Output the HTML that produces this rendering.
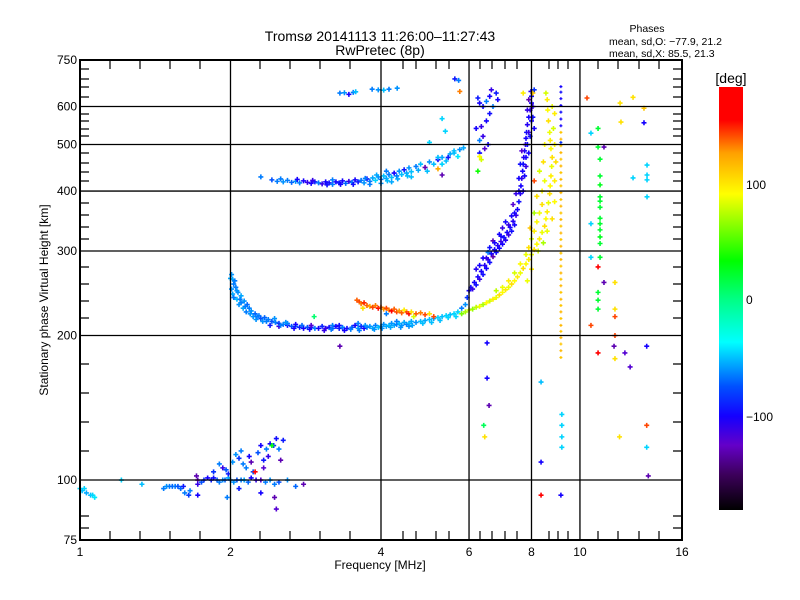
<!DOCTYPE html>
<html><head><meta charset="utf-8"><style>
html,body{margin:0;padding:0;background:#fff;}
svg{display:block;font-family:"Liberation Sans",sans-serif;}
</style></head><body>
<svg id="chart" width="800" height="600" viewBox="0 0 800 600">
<defs>
<linearGradient id="cbg" x1="0" y1="0" x2="0" y2="1">
<stop offset="0" stop-color="rgb(255,0,0)"/>
<stop offset="0.078" stop-color="rgb(255,0,0)"/>
<stop offset="0.156" stop-color="rgb(255,160,0)"/>
<stop offset="0.253" stop-color="rgb(255,255,0)"/>
<stop offset="0.411" stop-color="rgb(0,255,0)"/>
<stop offset="0.5" stop-color="rgb(0,255,130)"/>
<stop offset="0.603" stop-color="rgb(0,255,255)"/>
<stop offset="0.708" stop-color="rgb(0,80,255)"/>
<stop offset="0.778" stop-color="rgb(20,0,255)"/>
<stop offset="0.847" stop-color="rgb(100,0,200)"/>
<stop offset="0.917" stop-color="rgb(60,0,90)"/>
<stop offset="1" stop-color="rgb(0,0,0)"/>
</linearGradient>
</defs>
<g id="marks"></g>
<g id="axes"></g>
<text x="380" y="41" font-size="14" text-anchor="middle">Tromsø 20141113 11:26:00–11:27:43</text>
<text x="380" y="55" font-size="14" text-anchor="middle">RwPretec (8p)</text>
<text x="647" y="32" font-size="10.5" text-anchor="middle">Phases</text>
<text x="609" y="45" font-size="10.5">mean, sd,O: −77.9, 21.2</text>
<text x="609" y="57" font-size="10.5">mean, sd,X:  85.5, 21.3</text>
<text x="380" y="569" font-size="12" text-anchor="middle">Frequency [MHz]</text>
<text x="0" y="0" font-size="12" text-anchor="middle" transform="translate(48,300) rotate(-90)">Stationary phase Virtual Height [km]</text>
<rect x="719" y="87" width="24" height="423" fill="url(#cbg)"/>
<text x="731" y="83" font-size="14" text-anchor="middle">[deg]</text>
<text x="746" y="189" font-size="12">100</text>
<text x="746" y="304" font-size="12">0</text>
<text x="746" y="421" font-size="12">−100</text>
</svg>
<script>
const xTicks=[1,2,4,6,8,10,16];
const yTicks=[75,100,200,300,400,500,600,750];
const xMinorPx=[110,140,170,200,260,290,320,350,403,416,436,449,480,492,505,517,549,558,568,598,618,639,659];
const yMinorPx=[69,79,87,97,114,121,129,136,153,163,172,181,203,215,227,239,267,284,301,318,364,393,422,451,516,528];
const eLayer=[[1.00,96,-40],[1.01,95,-45],[1.02,96,-40],[1.03,94,-50],[1.05,93,-45],[1.06,93,-40],[1.07,92,-35],[1.21,100,-40],[1.33,98,-45],
[1.47,96,-60],[1.49,97,-55],[1.51,97,-60],[1.53,97,-65],[1.55,97,-60],[1.57,97,-70],[1.59,96,-65],[1.61,97,-90],[1.62,94,-60],[1.65,93,-75],[1.66,95,-60],
[1.71,102,-130],[1.72,100,-125],[1.72,98,-110],[1.75,99,-70],[1.77,100,-80],[1.8,101,-100],[1.83,100,-90],[1.85,101,-95],[1.88,100,-70],[1.9,99,-60],[1.93,100,-55],[1.95,100,-65],[1.98,101,-50],[2.0,100,-60],[2.03,99,-55],[2.06,100,-70],[2.1,100,-60],[2.13,100,-50],[2.17,99,-65],[2.2,101,-100],[2.25,100,-110],[2.3,100,-120],[2.35,99,-60],[2.4,100,-55],[2.45,98,-60],[2.5,99,-70],[2.6,100,-55],[2.7,97,-65],
[1.85,104,-80],[1.9,108,-60],[1.93,106,-110],[1.96,105,-70],[1.98,103,-90],[2.02,109,-55],[2.05,113,-55],[2.08,111,-80],[2.1,115,-60],[2.12,108,-60],[2.15,106,-60],[2.18,112,-100],[2.2,109,-130],[2.22,104,-70],[2.27,114,-70],[2.3,118,-100],[2.33,110,-90],[2.36,116,-60],[2.38,112,-110],[2.4,119,-100],[2.44,118,-80],[2.47,122,-95],[2.5,116,-60],[2.52,110,-130],[2.55,121,-90],[2.33,106,-120],[2.24,104,175],[2.42,118,30],
[1.72,93,-100],[1.97,92,-60],[2.08,96,-90],[2.3,94,-100],[2.45,92,-130],[2.8,98,-130],[2.47,87,-120]];
const oLow=[[2.01,268,-55],[2.02,262,-50],[2.03,256,-60],[2.01,250,-55],[2.02,244,-50],[2.05,252,-60],[2.07,246,-55],[2.1,242,-50],[2.06,238,-45],[2.1,234,-60],[2.13,236,-55],[2.16,232,-65],[2.12,228,-50],[2.18,228,-60],[2.2,225,-55],[2.15,224,-60],[2.24,222,-65],[2.22,219,-55],[2.28,220,-60],[2.3,217,-70],[2.34,218,-65],[2.38,216,-60],[2.32,214,-55],[2.42,214,-70],[2.46,213,-60],[2.5,212,-75],[2.55,211,-60],[2.6,210,-95],[2.65,209,-70],[2.7,209,-60],[2.75,208,-90],[2.8,207,-100],[2.85,208,-70],[2.9,208,-95],[2.95,207,-60],[3.0,207,-100],[3.05,209,-85],[3.1,207,-110],[3.15,208,-95],[3.2,207,-70],[3.25,209,-100],[3.3,207,-90],[3.35,208,-60],[3.42,207,-95],[3.5,208,-70],[3.55,210,-100],[3.6,207,-55],[3.65,209,-80],[3.7,207,-100],[3.75,208,-60],[3.8,209,-55],[3.85,207,-50],[3.9,210,-60],[3.95,208,-45],[4.0,209,-50],[4.05,211,-55],[4.1,209,-50],[4.15,210,-45],[4.2,212,-55],[4.25,210,-50],[4.3,211,-60],[4.35,212,-45],[4.4,210,-55],[4.45,213,-50],[4.5,211,-60],[4.55,212,-45],[4.6,214,-50],[4.7,213,-55],[4.8,214,-45],[4.9,215,-50],[5.0,216,-45],[5.1,217,-50],[5.2,218,-40],[5.3,219,-45],[5.4,220,-40],[5.5,221,-45],[5.6,222,-40],[5.7,224,-40],[2.4,210,-90],[2.5,209,-110],[2.6,212,-60],[2.7,211,-100],[2.9,210,-120],[3.3,210,-95],[2.0,263,-50],[2.03,240,-60],[2.08,232,-55],[2.25,216,-55],[3.6,212,-60],[4.3,214,-60],[4.55,209,-55],[3.2,210,-60],[2.45,217,-55],[2.94,219,5],[3.31,190,-130],
[2.04,260,-60],[2.06,248,-55],[2.09,238,-60],[2.14,230,-60],[2.19,222,-55],[2.26,219,-60],[2.36,214,-60],[2.52,210,-60],[2.58,213,-55],[2.68,207,-100],[2.78,210,-65],[2.88,206,-100],[3.08,205,-110],[3.18,206,-60],[3.38,205,-100],[3.48,206,-60],[3.62,205,-60],[3.72,210,-55],[3.88,206,-55],[4.02,207,-55],[4.18,208,-50],[4.38,208,-55],[4.62,210,-50],[4.85,212,-45],[5.05,213,-45],[5.25,215,-45],[5.45,218,-40],[5.65,219,-40]];
const orangeTrace=[[3.58,237,135],[3.62,235,140],[3.65,233,130],[3.7,234,145],[3.75,231,135],[3.8,230,120],[3.85,229,140],[3.9,231,130],[3.95,228,150],[4.0,229,135],[4.05,227,125],[4.1,228,140],[4.15,226,130],[4.2,225,160],[4.25,227,135],[4.3,224,140],[4.35,225,125],[4.4,223,135],[4.5,224,140],[4.55,222,150],[4.6,224,100],[4.7,222,135],[4.8,223,130],[4.9,221,140],[5.0,222,100],[3.68,228,100],[4.45,226,95],[4.65,219,80],[5.1,219,140],[4.1,222,-60]];
const upperTrace=[[2.42,422,-70],[2.48,419,-60],[2.55,418,-55],[2.6,421,-60],[2.65,417,-65],[2.7,419,-55],[2.75,416,-60],[2.8,420,-100],[2.85,417,-110],[2.9,415,-100],[2.95,418,-90],[3.0,416,-60],[3.05,414,-110],[3.1,418,-100],[3.15,416,-95],[3.2,413,-60],[3.25,418,-100],[3.3,416,-90],[3.35,420,-100],[3.4,415,-65],[3.45,419,-110],[3.5,417,-60],[3.55,422,-100],[3.6,418,-90],[3.65,421,-60],[3.7,416,-55],[3.75,424,-95],[3.8,419,-60],[3.85,426,-50],[3.9,421,-40],[3.95,428,-55],[4.0,423,-60],[4.05,430,-45],[4.1,425,-50],[4.15,433,-60],[4.2,427,-45],[4.25,436,-100],[4.3,430,-60],[4.35,440,-55],[4.4,433,-45],[4.45,443,-90],[4.5,436,-50],[4.55,447,-55],[4.6,439,-45],[4.7,450,-60],[4.75,442,-50],[4.8,455,-45],[4.9,448,-130],[5.0,460,-55],[5.1,455,-45],[5.2,465,-100],[5.3,470,-50],[5.4,462,-45],[5.5,478,-50],[5.6,485,-45],[5.75,488,-55],[5.85,492,-50],[3.2,422,-60],[3.8,413,-60],[4.0,415,-55],[4.2,418,-50],[4.6,428,-45],[4.1,440,-60],[5.2,445,120],[5.3,432,-130],[4.95,440,-45],[2.3,428,-60],[5.0,505,-40],[5.2,470,-45],[5.3,455,-40],[5.45,470,-90],[5.6,480,-45],[5.7,472,-35],
[2.52,424,-60],[2.72,423,-100],[2.92,421,-110],[3.12,412,-95],[3.32,413,-100],[3.52,413,-95],[3.72,425,-60],[3.92,432,-50],[4.12,420,-45],[4.32,424,-50],[4.52,430,-45]];
const topCluster=[[3.31,640,-60],[3.38,641,-55],[3.45,636,-100],[3.52,642,-60],[3.56,644,-45],[3.84,652,-60],[3.95,650,-55],[4.05,649,-45],[4.15,652,-60],[4.31,655,-55],[5.62,685,-90],[5.72,680,-60],[5.75,645,130],[5.3,566,-40],[5.38,533,-40]];
const oRise=[[5.8,228,-60],[5.9,232,-55],[5.95,240,-80],[6.0,248,-100],[6.05,252,-95],[6.1,250,-110],[6.15,258,-100],[6.2,255,-95],[6.25,265,-100],[6.3,262,-110],[6.35,272,-100],[6.4,268,-95],[6.45,280,-105],[6.5,276,-100],[6.55,288,-110],[6.6,284,-95],[6.65,296,-100],[6.7,292,-130],[6.75,302,-100],[6.8,298,-95],[6.85,308,-105],[6.9,304,-100],[6.95,314,-110],[7.0,310,-100],[7.05,320,-95],[7.1,316,-105],[7.15,328,-100],[7.2,324,-110],[7.25,336,-100],[7.3,330,-95],[7.35,346,-105],[7.4,340,-100],[7.45,356,-110],[7.5,366,-100],[7.55,380,-95],[7.6,395,-105],[7.62,410,-100],[7.65,425,-110],[7.68,440,-100],[7.7,455,-95],[7.72,470,-105],[7.75,485,-100],[7.78,500,-110],[7.8,515,-100],[7.82,530,-95],[7.85,550,-105],[7.9,570,-100],[7.95,590,-110],[8.0,610,-100],[8.0,630,-95],[7.98,645,-105],[8.05,600,-110],[8.05,570,-95],[8.1,540,-100],[7.9,620,-130],[8.1,650,-80],[6.9,325,-100],[7.0,335,-110],[6.6,305,-95],[6.4,290,-100],[6.2,275,-105],[7.3,355,-100],[7.45,395,-110],[7.55,425,-100],[7.6,455,-95],[7.65,485,-120],[6.7,315,-130],[6.55,298,-60],[7.1,345,-100],[7.8,470,-100],[7.85,500,-95],[7.9,530,-110],[7.7,400,-100],
[6.3,280,-100],[6.5,290,-110],[6.75,312,-100],[6.95,322,-100],[7.2,340,-110],[7.4,360,-100],[7.55,400,-100],[7.35,375,-120],[7.75,430,-100],[7.8,450,-110],[7.9,480,-100],[7.95,520,-95],[8.0,560,-100],[7.85,590,-110]];
const xTrace=[[5.8,222,60],[5.9,224,70],[6.0,226,80],[6.1,227,65],[6.2,229,75],[6.3,230,85],[6.4,232,70],[6.5,234,90],[6.6,236,80],[6.7,238,95],[6.8,240,85],[6.9,243,100],[7.0,246,90],[7.1,249,95],[7.2,252,85],[7.3,256,100],[7.4,260,90],[7.5,265,95],[7.6,270,85],[7.7,276,100],[7.8,282,90],[7.9,288,95],[8.0,295,85],[8.1,302,100],[8.2,310,90],[8.3,318,95],[8.4,328,85],[8.5,338,100],[8.55,350,90],[8.6,362,95],[8.65,378,85],[8.7,395,100],[8.72,410,90],[8.75,430,95],[8.78,450,85],[8.8,470,100],[8.75,490,90],[8.72,510,95],[8.7,530,85],[8.65,560,100],[8.62,590,90],[8.6,620,95],[8.55,640,80],
[6.8,248,75],[7.0,252,85],[7.2,260,95],[7.4,270,80],[7.6,282,90],[7.8,295,85],[7.9,305,100],[8.0,318,80],[8.1,330,95],[8.2,345,90],[8.3,360,85],[8.4,375,100],[8.4,400,90],[8.5,420,85],[8.3,440,80],[8.45,460,100],[8.2,390,100],[8.1,360,70],[7.95,335,110],[8.0,275,95],[8.25,300,80],[8.45,312,70],[8.6,330,85],[8.8,350,100],[8.9,380,90],[8.9,420,95],[8.9,500,90],[8.85,540,80],[8.95,460,100],[8.1,420,140],[7.85,260,85],[8.05,640,110],[7.7,640,95],[8.8,600,85],[8.9,580,95],[8.5,500,90]];
const columnTrace=[[9.16,180,110],[9.16,186,115],[9.16,192,110],[9.16,198,115],[9.16,204,110],[9.16,210,115],[9.16,217,110],[9.16,224,115],[9.16,231,110],[9.16,238,115],[9.16,246,110],[9.16,254,115],[9.16,262,110],[9.16,270,115],[9.16,279,110],[9.16,288,115],[9.16,297,110],[9.16,307,115],[9.16,317,110],[9.16,327,115],[9.16,338,110],[9.16,349,115],[9.16,360,110],[9.16,372,115],[9.16,384,110],[9.16,397,115],[9.16,410,110],[9.16,423,115],[9.16,437,110],[9.16,451,115],[9.16,466,110],[9.16,481,115],[9.16,497,110],[9.16,513,115],[9.16,530,110],[9.16,547,-100],[9.16,565,-100],[9.16,584,-95],[9.16,603,-100],[9.16,623,-100],[9.16,643,-95],[9.16,660,-100],[9.16,505,-80]];
const scatterUpper=[[6.25,625,-90],[6.3,610,-100],[6.4,600,-95],[6.5,615,-60],[6.6,630,-100],[6.65,650,-110],[6.5,560,-100],[6.35,545,-110],[6.6,580,-95],[6.7,600,-60],[6.55,500,-100],[6.45,490,-120],[6.3,510,-60],[6.8,640,-90],[6.2,540,-100],[6.4,520,-110],[6.85,620,-100],[6.3,480,-95],[6.25,440,35],[6.3,472,90],[6.35,465,80]];
const scatterLower=[[6.52,193,-100],[6.52,163,-100],[6.58,143,-130],[6.42,130,10],[6.45,123,100],[8.36,160,-45],[9.2,137,-40],[9.2,130,-40],[9.2,123,-40],[9.2,117,-40],[9.16,93,-100],[8.36,93,170],[8.36,109,-100],[12.0,123,100],[13.6,130,140],[13.6,117,-40],[13.7,102,-130],[12.3,184,-120],[12.6,172,-120],[13.6,190,-100],[11.7,190,-130]];
const scatterRight=[[10.33,625,140],[12.77,627,100],[12.03,610,100],[13.43,595,110],[12.08,557,100],[13.43,555,-100],[10.52,528,-40],[10.87,540,20],[11.17,494,-130],[10.87,494,20],[10.97,466,20],[10.97,430,20],[10.97,412,25],[12.77,426,-40],[13.62,453,-40],[13.62,432,-40],[13.62,422,-40],[13.62,389,-40],[10.97,389,20],[10.97,381,20],[10.97,370,20],[10.97,351,20],[10.97,342,20],[10.97,332,20],[10.97,321,25],[10.97,311,20],[10.52,342,-40],[10.52,291,-40],[10.97,291,20],[10.87,278,170],[11.17,258,-130],[11.75,258,100],[10.87,246,20],[10.87,237,20],[10.87,227,20],[11.75,227,100],[11.75,219,140],[10.52,210,140],[11.75,200,140],[10.87,184,170],[11.75,179,100]];

const NS='http://www.w3.org/2000/svg';
const X0=80,X1=682,Y0=60,Y1=540;
function xs(f){return X0+Math.log2(f)/4*(X1-X0);}
function ys(h){return Y1-Math.log(h/75)/Math.log(10)*(Y1-Y0);}
const cstops=[[-180,0,0,0],[-150,60,0,90],[-125,100,0,200],[-100,20,0,255],[-75,0,60,255],[-30,0,255,255],[0,0,255,130],[32,0,255,0],[89,255,255,0],[124,255,160,0],[152,255,0,0],[180,255,0,0]];
function cmap(v){
  for(let i=1;i<cstops.length;i++){
    if(v<=cstops[i][0]){const a=cstops[i-1],b=cstops[i];const t=Math.max(0,(v-a[0])/(b[0]-a[0]));
      return 'rgb('+[1,2,3].map(k=>Math.round(a[k]+(b[k]-a[k])*t)).join(',')+')';}
  }
  return 'rgb(255,0,0)';
}
function mk(tag,attrs){const e=document.createElementNS(NS,tag);for(const k in attrs)e.setAttribute(k,attrs[k]);return e;}
const marks=document.getElementById('marks');
const series=[['e-layer',eLayer],['o-low-trace',oLow],['orange-trace',orangeTrace],['upper-trace',upperTrace],['top-cluster',topCluster],['o-rise-trace',oRise],['x-trace',xTrace],['column-trace',columnTrace],['scatter-upper',scatterUpper],['scatter-lower',scatterLower],['scatter-right',scatterRight]];
series.forEach(([name,arr])=>{
  const g=mk('g',{});
  
  
  const small=name==='column-trace';
  arr.forEach(p=>{
    const x=xs(p[0]),y=ys(p[1]),c=cmap(p[2]);const r=small?1.5:2.5;
    const path=mk('path',{d:`M${x-r} ${y}H${x+r}M${x} ${y-r}V${y+r}`,stroke:c,'stroke-width':small?1.2:1.6,fill:'none'});
    
    
    g.appendChild(path);
  });
  marks.appendChild(g);
});
const axes=document.getElementById('axes');
xTicks.forEach(t=>{
  const x=xs(t);
  if(t>1&&t<16){const l=mk('line',{x1:x,x2:x,y1:Y0,y2:Y1,stroke:'#000','stroke-width':1.3});
    
    
    axes.appendChild(l);}
  const tx=mk('text',{x:x,y:556,'font-size':12,'text-anchor':'middle'});tx.textContent=t;
  
  
  axes.appendChild(tx);
});
yTicks.forEach(t=>{
  const y=ys(t);
  if(t>75&&t<750){const l=mk('line',{x1:X0,x2:X1,y1:y,y2:y,stroke:'#000','stroke-width':1.3});
    
    
    axes.appendChild(l);}
  const tx=mk('text',{x:77,y:y+4,'font-size':12,'text-anchor':'end'});tx.textContent=t;
  
  
  axes.appendChild(tx);
});
xMinorPx.forEach(x=>{
  const a=mk('path',{d:`M${x} ${Y0}V${Y0+9}M${x} ${Y1}V${Y1-9}`,stroke:'#000','stroke-width':1.2});
  
  
  axes.appendChild(a);
});
yMinorPx.forEach(y=>{
  const a=mk('path',{d:`M${X0} ${y}H${X0+9}M${X1} ${y}H${X1-9}`,stroke:'#000','stroke-width':1.2});
  
  
  axes.appendChild(a);
});
const frame=mk('rect',{x:X0,y:Y0,width:X1-X0,height:Y1-Y0,fill:'none',stroke:'#000','stroke-width':2});


axes.appendChild(frame);
</script>
</body></html>
